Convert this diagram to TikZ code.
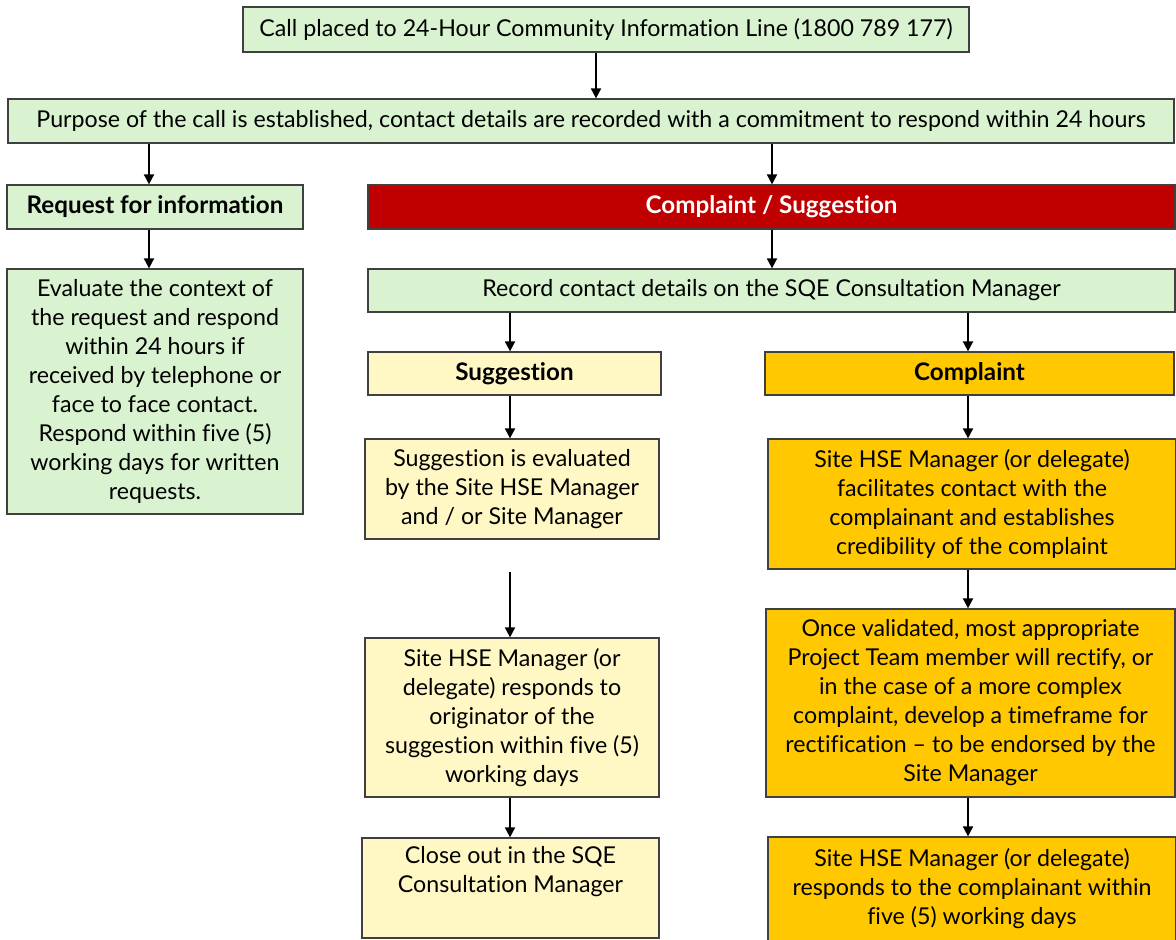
\documentclass[tikz,border=0pt]{standalone}
\usepackage{fontspec}
\setmainfont{Lato}[Ligatures=NoCommon]
\usetikzlibrary{arrows.meta}
\definecolor{lgreen}{HTML}{D9F2D0}
\definecolor{dred}{HTML}{C00000}
\definecolor{lyellow}{HTML}{FFF8C4}
\definecolor{goldc}{HTML}{FFC800}
\definecolor{bord}{HTML}{404040}
\begin{document}
\begin{tikzpicture}[x=0.5pt,y=-0.5pt,
  sz/.style 2 args={minimum width=#1*0.5pt, minimum height=#2*0.5pt},
  box/.style={draw=bord, line width=0.6pt, inner sep=0pt, align=center,
    font=\fontsize{11.6}{14.5}\selectfont, text=black},
  gbox/.style={box, fill=lgreen},
  rbox/.style={box, fill=dred, text=white, font=\fontsize{12.1}{14.5}\selectfont\bfseries},
  ybox/.style={box, fill=lyellow},
  obox/.style={box, fill=goldc},
  hd/.style={font=\fontsize{12.1}{14.5}\selectfont\bfseries},
  arr/.style={line width=0.9pt, -{Triangle[length=5pt,width=5pt]}}]
\useasboundingbox (0,0) rectangle (1176,940);

\node[gbox, sz={726}{45}] (top) at (606,29.5) {Call placed to 24-Hour Community Information Line (1800 789 177)};
\node[gbox, sz={1166}{44}] (purpose) at (591,121) {Purpose of the call is established, contact details are recorded with a commitment to respond within 24 hours};
\node[gbox, hd, sz={296}{44}] (request) at (155,207) {Request for information};
\node[rbox, sz={807}{44}] (cs) at (771.5,207) {Complaint / Suggestion};
\node[gbox, sz={296}{245}] (evaluate) at (155,391.5) {Evaluate the context of\\ the request and respond\\ within 24 hours if\\ received by telephone or\\ face to face contact.\\ Respond within five (5)\\ working days for written\\ requests.};
\node[gbox, sz={807}{43}] (record) at (771.5,290.5) {Record contact details on the SQE Consultation Manager};
\node[ybox, hd, sz={293}{43}] (sugg) at (514.5,373.5) {Suggestion};
\node[obox, hd, sz={409}{43}] (compl) at (969.5,373.5) {Complaint};
\node[ybox, sz={294}{100}] (sugeval) at (512,489) {Suggestion is evaluated\\ by the Site HSE Manager\\ and / or Site Manager};
\node[obox, sz={408}{130}] (facil) at (972,504) {Site HSE Manager (or delegate)\\ facilitates contact with the\\ complainant and establishes\\ credibility of the complaint};
\node[ybox, sz={294}{159}] (resporig) at (512,717.5) {Site HSE Manager (or\\ delegate) responds to\\ originator of the\\ suggestion within five (5)\\ working days};
\node[obox, sz={409}{188}] (valid) at (970.5,703) {Once validated, most appropriate\\ Project Team member will rectify, or\\ in the case of a more complex\\ complaint, develop a timeframe for\\ rectification – to be endorsed by the\\ Site Manager};
\node[ybox, sz={297}{100}] (close) at (510.5,888) {Close out in the SQE\\ Consultation Manager\\ \strut};
\node[obox, sz={408}{104}] (respcomp) at (972,889) {Site HSE Manager (or delegate)\\ responds to the complainant within\\ five (5) working days};

\coordinate (c1) at (596,0);
\coordinate (c2) at (149,0);
\coordinate (c3) at (772,0);
\coordinate (c4) at (510,0);
\coordinate (c5) at (968,0);
\coordinate (gapstart) at (510,572);

\draw[arr] (top.south -| c1) -- (purpose.north -| c1);
\draw[arr] (purpose.south -| c2) -- (request.north -| c2);
\draw[arr] (purpose.south -| c3) -- (cs.north -| c3);
\draw[arr] (request.south -| c2) -- (evaluate.north -| c2);
\draw[arr] (cs.south -| c3) -- (record.north -| c3);
\draw[arr] (record.south -| c4) -- (sugg.north -| c4);
\draw[arr] (record.south -| c5) -- (compl.north -| c5);
\draw[arr] (sugg.south -| c4) -- (sugeval.north -| c4);
\draw[arr] (gapstart) -- (resporig.north -| c4);
\draw[arr] (resporig.south -| c4) -- (close.north -| c4);
\draw[arr] (compl.south -| c5) -- (facil.north -| c5);
\draw[arr] (facil.south -| c5) -- (valid.north -| c5);
\draw[arr] (valid.south -| c5) -- (respcomp.north -| c5);
\end{tikzpicture}
\end{document}
